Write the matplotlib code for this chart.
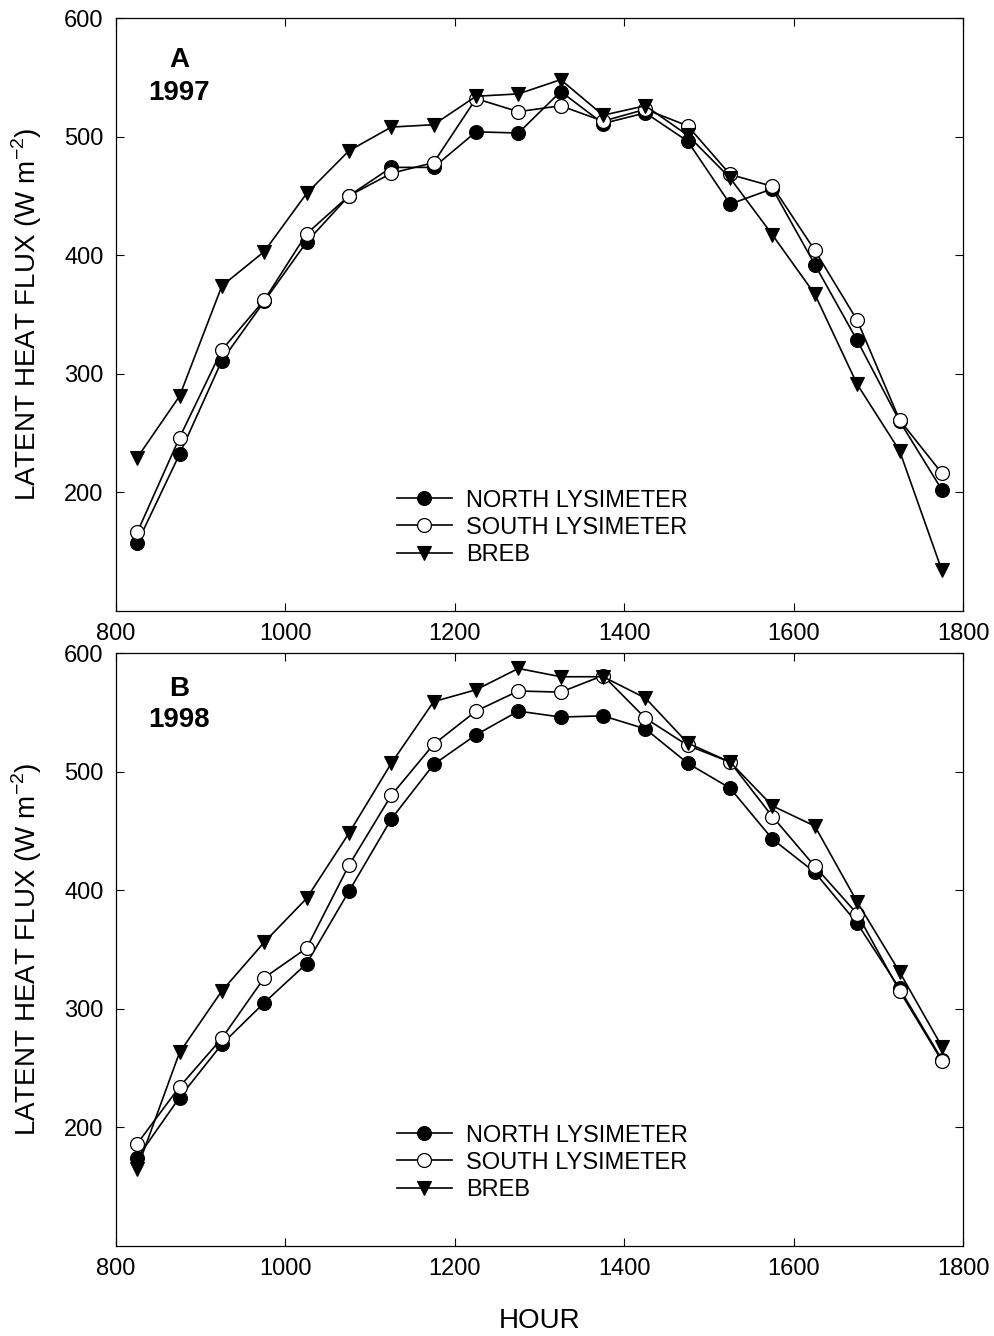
import numpy as np
import matplotlib
matplotlib.use("Agg")
import matplotlib.pyplot as plt

plt.rcParams['font.family'] = ['Liberation Sans', 'DejaVu Sans']
plt.rcParams['axes.unicode_minus'] = False
plt.rcParams['mathtext.fontset'] = 'custom'
plt.rcParams['mathtext.rm'] = 'Liberation Sans'

hours = [825, 875, 925, 975, 1025, 1075, 1125, 1175, 1225, 1275,
         1325, 1375, 1425, 1475, 1525, 1575, 1625, 1675, 1725, 1775]

# 1997
north_97 = [157, 232, 311, 361, 411, 450, 474, 474, 504, 503,
            538, 511, 520, 496, 443, 456, 392, 328, 260, 202]
south_97 = [166, 246, 320, 362, 418, 450, 469, 478, 532, 521,
            526, 513, 523, 509, 468, 458, 404, 345, 261, 216]
breb_97 = [229, 281, 374, 403, 452, 488, 508, 510, 534, 536,
           548, 518, 526, 501, 465, 417, 367, 291, 235, 134]

# 1998
north_98 = [174, 225, 270, 305, 338, 399, 460, 506, 531, 551,
            546, 547, 536, 507, 486, 443, 415, 372, 317, 257]
south_98 = [186, 234, 275, 326, 351, 421, 480, 523, 551, 568,
            567, 581, 545, 522, 508, 462, 420, 380, 315, 256]
breb_98 = [165, 263, 315, 356, 393, 448, 507, 559, 569, 587,
           580, 580, 562, 524, 508, 471, 454, 390, 331, 268]

series_labels = ["NORTH LYSIMETER", "SOUTH LYSIMETER", "BREB"]
panels = [("A", "1997", north_97, south_97, breb_97, 0.929, 0.873),
          ("B", "1998", north_98, south_98, breb_98, 0.939, 0.887)]

fig = plt.figure(figsize=(9.95, 13.36), dpi=100)
ax_a = fig.add_axes([0.1166, 0.5429, 0.8513, 0.4436])
ax_b = fig.add_axes([0.1166, 0.0676, 0.8513, 0.4436])

fs = 17
label_fs = 20
for ax, (letter, year, north, south, breb, y_let, y_year) in zip([ax_a, ax_b], panels):
    lw = 1.2
    ax.plot(hours, north, color='black', lw=lw, marker='o', ms=10,
            mfc='black', mec='black', mew=0.8, label=series_labels[0])
    ax.plot(hours, south, color='black', lw=lw, marker='o', ms=10,
            mfc='white', mec='black', mew=0.9, label=series_labels[1])
    ax.plot(hours, breb, color='black', lw=lw, marker='v', ms=10,
            mfc='black', mec='black', mew=0.8, label=series_labels[2])

    ax.set_xlim(800, 1800)
    ax.set_ylim(100, 600)
    ax.set_xticks([800, 1000, 1200, 1400, 1600, 1800])
    ax.set_yticks([200, 300, 400, 500, 600])
    ax.tick_params(direction='in', length=6, width=0.8, top=True, right=True,
                   labelsize=fs, pad=9)
    for sp in ax.spines.values():
        sp.set_linewidth(0.9)

    ax.set_ylabel(r"LATENT HEAT FLUX (W m$^{\mathrm{-2}}$)", fontsize=label_fs)
    ax.yaxis.set_label_coords(-0.085, 0.5)

    ax.text(0.0745, y_let, letter, transform=ax.transAxes, ha='center', va='center',
            fontsize=label_fs, fontweight='bold')
    ax.text(0.0745, y_year, year, transform=ax.transAxes, ha='center', va='center',
            fontsize=label_fs, fontweight='bold')

    ax.legend(loc='center left', bbox_to_anchor=(0.332, 0.140), frameon=False,
              fontsize=fs, handlelength=2.3, handletextpad=0.6,
              labelspacing=0.22, borderpad=0, borderaxespad=0)

ax_b.set_xlabel("HOUR", fontsize=label_fs)
ax_b.xaxis.set_label_coords(0.5, -0.105)

fig.savefig("out.png", dpi=100)
